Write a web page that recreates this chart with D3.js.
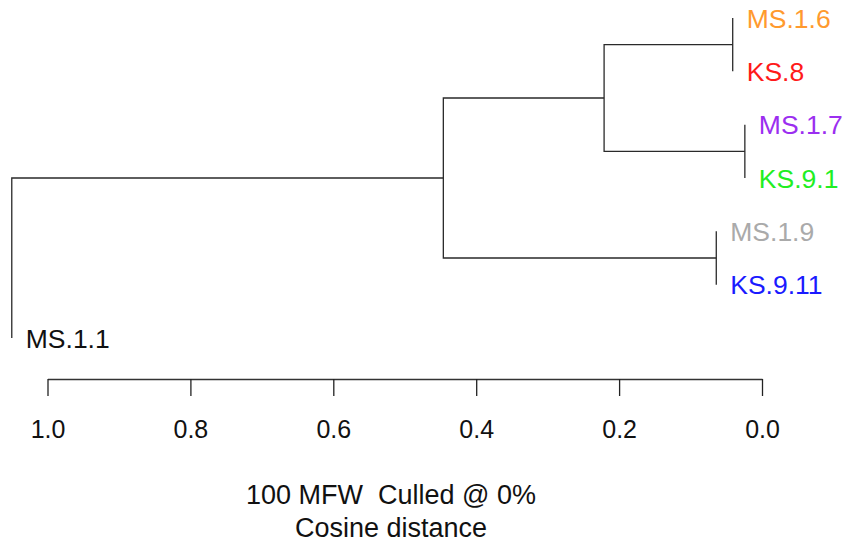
<!DOCTYPE html>
<html>
<head>
<meta charset="utf-8">
<script src="https://cdn.jsdelivr.net/npm/d3@7"></script>
<style>
  body { margin: 0; background: #fff; }
  svg { display: block; }
  text { font-family: "Liberation Sans", Arial, sans-serif; white-space: pre; }
</style>
</head>
<body>
<svg id="chart" width="849" height="545"></svg>
<script>
// leaves, top to bottom
var leafLabels = ["MS.1.6", "KS.8", "MS.1.7", "KS.9.1", "MS.1.9", "KS.9.11", "MS.1.1"];
var leafColors = ["#ff9a2e", "#ff1a1a", "#9b2ef0", "#22ee22", "#aaaaaa", "#1a1aff", "#111111"];
// hclust-like merge table: negative = leaf (1-based), positive = earlier merge
var mergeLeft   = [-1, -3, -5, 1, 4, 5];
var mergeRight  = [-2, -4, -6, 2, 3, -7];
var mergeHeight = [0.041, 0.024, 0.064, 0.221, 0.446, 1.05];
var axisTicks = [1.0, 0.8, 0.6, 0.4, 0.2, 0.0];
var titleLines = ["100 MFW  Culled @ 0%", "Cosine distance"];

var svg = d3.select("#chart");
var fs = 26.5;

var x = d3.scaleLinear().domain([1, 0]).range([47.5, 762]);
var y = d3.scaleLinear().domain([0, leafLabels.length - 1]).range([18, 338]);

// position of each merge: x at its height, y at mid of its children
var nodeY = [];
function childY(c) { return c < 0 ? y(-c - 1) : nodeY[c - 1]; }
function childX(c, parentH) { return c < 0 ? x(parentH) : x(mergeHeight[c - 1]); }

var tree = svg.append("g").attr("fill", "none").attr("stroke", "#2a2a2a").attr("stroke-width", 1.3);

mergeHeight.forEach(function (h, i) {
  var a = mergeLeft[i], b = mergeRight[i];
  var ya = childY(a), yb = childY(b);
  nodeY[i] = (ya + yb) / 2;
  var px = x(h);
  var path = d3.path();
  path.moveTo(childX(a, h), ya);
  path.lineTo(px, ya);
  path.lineTo(px, yb);
  path.lineTo(childX(b, h), yb);
  tree.append("path").attr("d", path.toString());
});

// leaf labels hang at their parent's height
var leafX = [];
mergeHeight.forEach(function (h, i) {
  [mergeLeft[i], mergeRight[i]].forEach(function (c) {
    if (c < 0) leafX[-c - 1] = x(h);
  });
});

svg.append("g").selectAll("text")
  .data(leafLabels)
  .enter()
  .append("text")
  .attr("x", function (d, i) { return leafX[i] + 14; })
  .attr("y", function (d, i) { return y(i) + 9.5; })
  .attr("font-size", fs)
  .attr("fill", function (d, i) { return leafColors[i]; })
  .text(function (d) { return d; });

// axis
var axis = d3.axisBottom(x)
  .tickValues(axisTicks)
  .tickFormat(d3.format(".1f"))
  .tickSize(17)
  .tickSizeOuter(0);

var gAxis = svg.append("g").attr("transform", "translate(0,379)").call(axis);
gAxis.select(".domain").attr("stroke", "#333").attr("stroke-width", 1.5);
gAxis.selectAll(".tick line").attr("stroke", "#222").attr("stroke-width", 1.3);
gAxis.selectAll(".tick text")
  .attr("y", 59)
  .attr("dy", null)
  .attr("font-size", 25)
  .attr("font-family", "Liberation Sans, Arial, sans-serif")
  .attr("fill", "#111");

svg.append("g").selectAll("text")
  .data(titleLines)
  .enter()
  .append("text")
  .attr("x", 391)
  .attr("y", function (d, i) { return 504 + i * 33; })
  .attr("text-anchor", "middle")
  .attr("font-size", 27)
  .attr("fill", "#111")
  .text(function (d) { return d; });
</script>
</body>
</html>
